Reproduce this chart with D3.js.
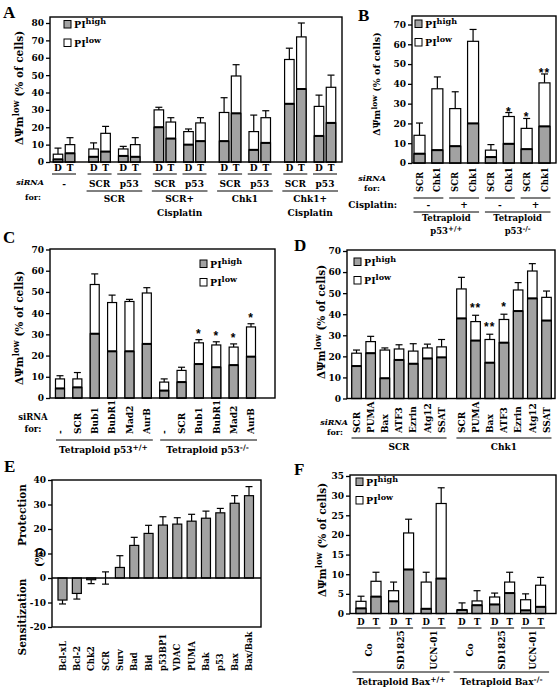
<!DOCTYPE html>
<html><head><meta charset="utf-8">
<script src="https://cdn.jsdelivr.net/npm/d3@7"></script>
<style>body{margin:0;background:#fff}</style>
</head><body><svg id="c" width="558" height="689" style="background:#fff"></svg>
<script>
// ---------------- DATA ----------------
// Panel A : 9 D/T pairs
const aSub = ["-","SCR","p53","SCR","p53","SCR","p53","SCR","p53"];
const aGroups = [["SCR"],["SCR+","Cisplatin"],["Chk1"],["Chk1+","Cisplatin"]];
const aTotal = [4.5,10, 7.5,16.5, 7.5,10, 30,23, 17.5,22.5, 28.5,49.5, 17.5,25.5, 59,72, 32,43];
const aHigh  = [1.5,5, 3,6, 3.5,3, 20,13.5, 10,12, 12,28, 7,11, 33.5,42, 15,22.5];
const aErr   = [8,14, 11,20.5, 9,14, 31.5,25.5, 19,25.5, 37,56, 27,29.5, 65.5,80, 38.5,50];
const aTicks = [0,10,20,30,40,50,60,70,80];
// Panel B
const bLabels = ["SCR","Chk1","SCR","Chk1","SCR","Chk1","SCR","Chk1"];
const bCis = ["-","+","-","+"];
const bTotal = [14,37.5,27.5,61.5,6.5,23.5,17.5,40.5];
const bHigh  = [4.7,6.5,8.5,20,3,9.7,7,18.5];
const bErr   = [20.2,43.5,36,67.5,9.3,25.5,22.5,45];
const bStars = ["","","","","","*","*","**"];
const bTicks = [0,10,20,30,40,50,60,70];
// Panel C
const cLabels = ["-","SCR","Bub1","BubR1","Mad2","AurB","-","SCR","Bub1","BubR1","Mad2","AurB"];
const cTotal = [9,9,53.5,45,45.5,49.5,7.5,13,26,25,24,33.5];
const cHigh  = [4.5,5,30.3,22,22,25.5,3.5,7.5,16,14.5,15.5,19.5];
const cErr   = [10.5,12,58.5,48.5,46.5,52,9,14.5,27.5,26.5,25.5,35];
const cStars = ["","","","","","","","","*","*","*","*"];
const cTicks = [0,10,20,30,40,50,60,70];
// Panel D
const dLabels = ["SCR","PUMA","Bax","ATF3","Ezrin","Atg12","SSAT","SCR","PUMA","Bax","ATF3","Ezrin","Atg12","SSAT"];
const dTotal = [21.5,27,23,23.5,22.5,24,24.5,52,36.5,28,37.5,51.5,60.5,48];
const dHigh  = [15.4,21.5,9.6,18.3,16.5,19,19.5,38,27.5,17,26.5,41.5,47.5,37];
const dErr   = [23,29.5,24,25.5,26,25.8,28,57.5,39.5,30.5,40,55,64,51];
const dStars = ["","","","","","","","","**","**","*","","",""];
const dTicks = [0,10,20,30,40,50,60,70];
// Panel E
const eLabels = ["Bcl-xL","Bcl-2","Chk2","SCR","Surv","Bad","Bid","p53BP1","VDAC","PUMA","Bak","p53","Bax","Bax/Bak"];
const eVal = [-9,-6.3,-0.7,0,4.3,13.3,18.2,21.6,22,23.2,24.4,26.6,30.5,33.6];
const eErr = [1.6,2.3,1.6,2.5,4.8,3.3,3.3,3.4,2.6,2.8,2.9,1.8,3.1,3.7];
const eTicks = [-20,-10,0,10,20,30,40];
// Panel F
const fGroups = ["Co","SD1825","UCN-01","Co","SD1825","UCN-01"];
const fTotal = [3.1,8.2, 5.8,20.5, 8,28, 0.9,3.2, 4.2,8, 3.5,7.2];
const fHigh  = [1.3,4.3, 3.1,11.2, 1.2,8.9, 0.9,2.1, 2.3,5.2, 0.8,1.7];
const fErr   = [4.4,10.5, 8,24, 10.5,32, 2.7,5.8, 5.2,10.5, 5,9.2];
const fTicks = [0,5,10,15,20,25,30,35];

// ---------------- HELPERS ----------------
const svg = d3.select("#c");
const FF = "DejaVu Serif";
const GREY = "#a2a2a2";

function txt(g,x,y,s,o={}){
  const t=g.append("text").attr("x",x).attr("y",y).attr("font-family",o.family||FF).attr("font-weight","bold")
   .attr("font-size",o.size||9).attr("text-anchor",o.anchor||"middle").attr("fill","#000").text(s);
  if(o.italic) t.attr("font-style","italic");
  return t;
}
function star(g,x,y,s){
  return g.append("text").attr("x",x).attr("y",y).attr("font-family","Liberation Sans").attr("font-weight","bold")
   .attr("font-size",12).attr("text-anchor","middle").attr("fill","#000").attr("letter-spacing",1).text(s);
}
function rtxt(g,x,y,s,anchor,size){
  return g.append("text").attr("transform",`translate(${x},${y}) rotate(-90)`).attr("dy","0.36em")
   .attr("font-family",FF).attr("font-weight","bold").attr("font-size",size).attr("text-anchor",anchor).attr("fill","#000").text(s);
}
function hline(g,x1,x2,y,w=1.2){g.append("line").attr("x1",x1).attr("x2",x2).attr("y1",y).attr("y2",y).attr("stroke","#000").attr("stroke-width",w);}
function vline(g,x,y1,y2,w=1.2){g.append("line").attr("x1",x).attr("x2",x).attr("y1",y1).attr("y2",y2).attr("stroke","#000").attr("stroke-width",w);}
function frame(g,x0,y0,x1,y1){g.append("rect").attr("x",x0).attr("y",y0).attr("width",x1-x0).attr("height",y1-y0).attr("fill","none").attr("stroke","#000").attr("stroke-width",1.4);}
function yaxis(g,y,ticks,x0,size=9){
  const a=g.append("g").attr("transform",`translate(${x0},0)`)
    .call(d3.axisLeft(y).tickValues(ticks).tickSize(4).tickPadding(2).tickFormat(d=>String(d)));
  a.select(".domain").remove();
  a.selectAll("text").attr("font-family",FF).attr("font-weight","bold").attr("font-size",size).attr("fill","#000");
  a.selectAll("line").attr("stroke-width",1.3);
}
function sbar(g,xc,w,y,total,high,err){
  vline(g,xc,y(total),y(err));
  hline(g,xc-3.5,xc+3.5,y(err));
  g.append("rect").attr("x",xc-w/2).attr("y",y(total)).attr("width",w).attr("height",y(0)-y(total)).attr("fill","#fff").attr("stroke","#000").attr("stroke-width",1.2);
  g.append("rect").attr("x",xc-w/2).attr("y",y(high)).attr("width",w).attr("height",y(0)-y(high)).attr("fill",GREY).attr("stroke","#000").attr("stroke-width",1.2);
  hline(g,xc-w/2,xc+w/2,y(high),2);
}
function legend(g,x,y,size=9.5){
  [["high",GREY],["low","#fff"]].forEach(([s,c],i)=>{
    const yy=y+i*18.5;
    g.append("rect").attr("x",x).attr("y",yy).attr("width",7).attr("height",7.5).attr("fill",c).attr("stroke","#000").attr("stroke-width",1);
    const t=txt(g,x+10,yy+7.5,"PI",{anchor:"start",size:size});
    t.append("tspan").attr("dy",-4).attr("font-size",size*0.85).text(s);
  });
}
function ylab(g,x,yc,size){
  const t=g.append("text").attr("transform",`translate(${x},${yc}) rotate(-90)`).attr("text-anchor","middle")
    .attr("font-family",FF).attr("font-weight","bold").attr("font-size",size).attr("fill","#000");
  t.append("tspan").attr("dy","0.36em").text("ΔΨm");
  t.append("tspan").attr("dy",-size*0.4).attr("font-size",size*0.8).text("low");
  t.append("tspan").attr("dy",size*0.4).text(" (% of cells)");
}
function letter(x,y,s){txt(svg,x,y,s,{anchor:"start",size:17,family:"Liberation Serif"});}
function sup(t,s,size){t.append("tspan").attr("dy",-3.5).attr("font-size",size).text(s);}

// ---------------- PANEL A ----------------
{
  const g=svg.append("g");
  letter(3,18,"A");
  const y=d3.scaleLinear().domain([0,80]).range([162,23]);
  const x=d3.scaleLinear().domain([0,8.8]).range([64,325]);
  const pos=i=>i+0.2*(i===0?0:Math.floor((i+1)/2));
  aSub.forEach((s,i)=>{
    const c=x(pos(i));
    sbar(g,c-6,9.5,y,aTotal[2*i],aHigh[2*i],aErr[2*i]);
    sbar(g,c+6,9.5,y,aTotal[2*i+1],aHigh[2*i+1],aErr[2*i+1]);
    txt(g,c-6,171,"D",{size:9}); txt(g,c+6,171,"T",{size:9});
    hline(g,c-12,c+12,174,1);
    txt(g,c,187,s,{size:9});
  });
  aGroups.forEach((lab,k)=>{
    const c1=x(pos(1+2*k)), c2=x(pos(2+2*k));
    hline(g,c1-13,c2+13,191,1);
    lab.forEach((l,j)=>txt(g,(c1+c2)/2,202+j*14,l,{size:9}));
  });
  txt(g,30,185,"siRNA",{size:8,italic:true});
  txt(g,33,200,"for:",{size:8});
  yaxis(g,y,aTicks,50);
  frame(g,50,17,342,162);
  legend(g,64,20.5);
  ylab(g,19,88,10.5);
}
// ---------------- PANEL B ----------------
{
  const g=svg.append("g");
  letter(358,21,"B");
  const y=d3.scaleLinear().domain([0,70]).range([163,24.5]);
  const x=d3.scaleLinear().domain([0,7]).range([419.5,544.5]);
  bLabels.forEach((s,i)=>{
    const c=x(i);
    sbar(g,c,11,y,bTotal[i],bHigh[i],bErr[i]);
    if(bStars[i]) star(g,c,y(bErr[i])+3,bStars[i]);
    rtxt(g,c,192,s,"start",8.5);
  });
  bCis.forEach((s,k)=>{
    const c1=x(2*k), c2=x(2*k+1);
    hline(g,c1-6,c2+6,198,1);
    txt(g,(c1+c2)/2,208,s,{size:9});
  });
  txt(g,397,208,"Cisplatin:",{size:9,anchor:"end"});
  [["+/+"],["-/-"]].forEach((sp,k)=>{
    const c1=x(4*k), c2=x(4*k+3);
    hline(g,c1-6,c2+6,212,1);
    txt(g,(c1+c2)/2,220.5,"Tetraploid",{size:8.5});
    const t=txt(g,(c1+c2)/2,234,"p53",{size:8.5}); sup(t,sp[0],7);
  });
  txt(g,372,181,"siRNA",{size:8,italic:true});
  txt(g,372,191,"for:",{size:8});
  yaxis(g,y,bTicks,412);
  frame(g,412,16,556,163);
  legend(g,415,20);
  ylab(g,377,84,9.5);
}
// ---------------- PANEL C ----------------
{
  const g=svg.append("g");
  letter(3,243,"C");
  const y=d3.scaleLinear().domain([0,70]).range([398,249.5]);
  const x=d3.scaleLinear().domain([0,11]).range([60,251]);
  cLabels.forEach((s,i)=>{
    const c=x(i);
    sbar(g,c,9,y,cTotal[i],cHigh[i],cErr[i]);
    if(cStars[i]) star(g,c,y(cErr[i])-2,cStars[i]);
    rtxt(g,c,434,s,"start",9);
  });
  [["+/+"],["-/-"]].forEach((sp,k)=>{
    const c1=x(6*k), c2=x(6*k+5);
    hline(g,c1-4,c2+6,440,1);
    const t=txt(g,(c1+c2)/2,453,"Tetraploid p53",{size:9}); sup(t,sp[0],7.5);
  });
  txt(g,33,420,"siRNA",{size:8.5});
  txt(g,33,432,"for:",{size:8.5});
  yaxis(g,y,cTicks,50);
  frame(g,50,249,275,398);
  legend(g,200,260);
  ylab(g,19,328,10.5);
}
// ---------------- PANEL D ----------------
{
  const g=svg.append("g");
  letter(294,251,"D");
  const y=d3.scaleLinear().domain([0,70]).range([398.5,251]);
  const x=d3.scaleLinear().domain([0,13.4]).range([356.5,546.5]);
  const pos=i=>i+(i>=7?0.4:0);
  dLabels.forEach((s,i)=>{
    const c=x(pos(i));
    sbar(g,c,9.5,y,dTotal[i],dHigh[i],dErr[i]);
    if(dStars[i]) star(g,c,y(dErr[i])-3,dStars[i]);
    rtxt(g,c,433,s,"start",9);
  });
  [["SCR"],["Chk1"]].forEach((l,k)=>{
    const c1=x(pos(7*k)), c2=x(pos(7*k+6));
    hline(g,c1-5,c2+5,438,1);
    txt(g,(c1+c2)/2,450,l[0],{size:9});
  });
  txt(g,334,425,"siRNA",{size:8,italic:true});
  txt(g,335,435,"for:",{size:8});
  yaxis(g,y,dTicks,347);
  frame(g,347,250,555,398.5);
  legend(g,354,258);
  ylab(g,321,322,10.5);
}
// ---------------- PANEL E ----------------
{
  const g=svg.append("g");
  letter(4,472,"E");
  const y=d3.scaleLinear().domain([-20,40]).range([627,480]);
  const x=d3.scaleLinear().domain([0,13]).range([62.5,249]);
  eLabels.forEach((s,i)=>{
    const c=x(i), v=eVal[i], e=eErr[i];
    if(s==="SCR"){ vline(g,c,y(-e),y(e)); hline(g,c-3.5,c+3.5,y(e)); hline(g,c-3.5,c+3.5,y(-e)); }
    else { const end=v<0?v-e:v+e; vline(g,c,y(v),y(end)); hline(g,c-3.5,c+3.5,y(end)); }
    if(v!==0) g.append("rect").attr("x",c-4.5).attr("y",y(Math.max(v,0))).attr("width",9)
      .attr("height",Math.abs(y(v)-y(0))).attr("fill",GREY).attr("stroke","#000").attr("stroke-width",1.2);
    rtxt(g,c,671,s,"start",8.5);
  });
  hline(g,52,261,y(0),1.4);
  yaxis(g,y,eTicks,52);
  frame(g,52,480,261,627);
  [["Protection",22,515],["(%)",39,557],["Sensitization",22,617]].forEach(([s,xx,yy])=>rtxt(g,xx,yy,s,"middle",10.5));
}
// ---------------- PANEL F ----------------
{
  const g=svg.append("g");
  letter(294,475,"F");
  const y=d3.scaleLinear().domain([0,35]).range([613.5,476]);
  const x=d3.scaleLinear().domain([0,5.05]).range([368.5,533.1]);
  const pos=[0,1,2,3.1,4.1,5.05];
  fGroups.forEach((s,i)=>{
    const c=x(pos[i]);
    sbar(g,c-7.5,10,y,fTotal[2*i],fHigh[2*i],fErr[2*i]);
    sbar(g,c+7.5,10,y,fTotal[2*i+1],fHigh[2*i+1],fErr[2*i+1]);
    txt(g,c-7.5,625,"D",{size:8.5}); txt(g,c+7.5,625,"T",{size:8.5});
    hline(g,c-12,c+12,628,1);
    rtxt(g,c,650,s,"middle",9);
  });
  [["+/+"],["-/-"]].forEach((sp,k)=>{
    const c1=x(pos[3*k]), c2=x(pos[3*k+2]);
    hline(g,c1-16,c2+16,672,1);
    const t=txt(g,(c1+c2)/2,685,"Tetraploid Bax",{size:9}); sup(t,sp[0],7.5);
  });
  yaxis(g,y,fTicks,350);
  frame(g,350,475,556,613.5);
  legend(g,356,478);
  ylab(g,322,540,10.5);
}
</script></body></html>
